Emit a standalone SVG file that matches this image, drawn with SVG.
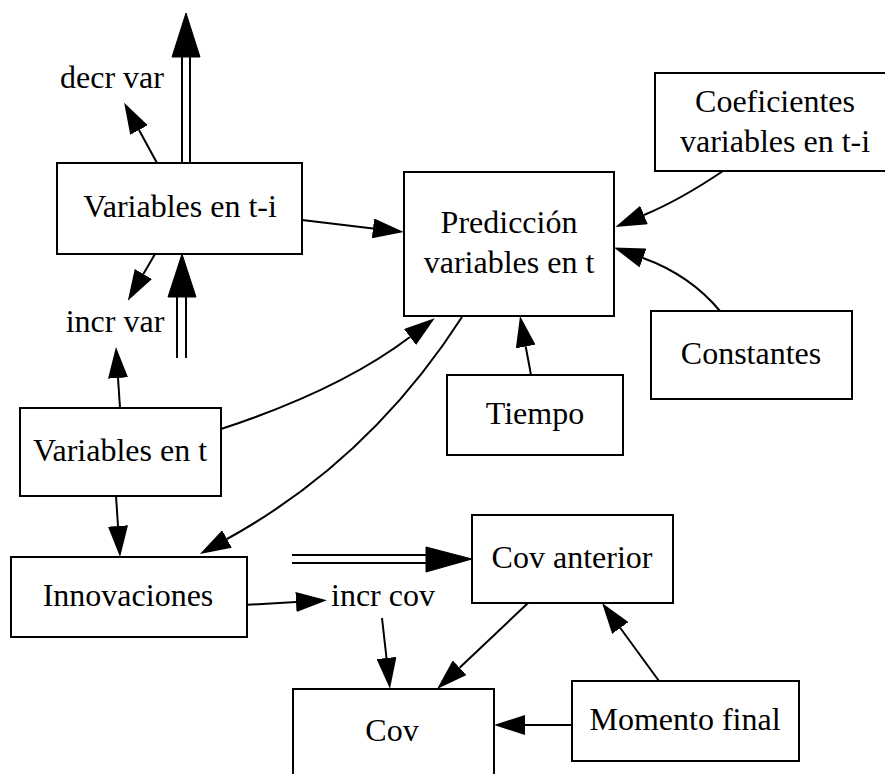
<svg xmlns="http://www.w3.org/2000/svg" width="885" height="774" viewBox="0 0 885 774">
  <style>
    .box { fill: #ffffff; stroke: #000000; stroke-width: 2; }
    .lbl { font-family: "Liberation Serif", "Times New Roman", serif; font-size: 32px; fill: #000000; text-anchor: middle; }
    .edge { fill: none; stroke: #000000; stroke-width: 2; marker-end: url(#head); }
    .rail { fill: none; stroke: #000000; stroke-width: 2; }
    .bighead { fill: #000000; stroke: #000000; stroke-width: 1; }
  </style>
  <defs>
    <marker id="head" markerUnits="userSpaceOnUse" viewBox="0 0 31 20" refX="0" refY="10" markerWidth="31" markerHeight="20" orient="auto">
      <path d="M0,0 L31,10 L0,20 Z" fill="#000000"/>
    </marker>
  </defs>

  <rect width="885" height="774" fill="#ffffff"/>

  <!-- connectors -->
  <g id="connectors">
    <path class="edge" d="M302,220 L373,228.4"/>
    <path class="edge" d="M723,171 Q680,200 644,215"/>
    <path class="edge" d="M720,311 Q690,275 643,258"/>
    <path class="edge" d="M531,375 L525.7,346.5"/>
    <path class="edge" d="M221,429 Q340,390 410,337"/>
    <path class="edge" d="M462,317 Q370,460 227,539"/>
    <path class="edge" d="M157,163 L139,130"/>
    <path class="edge" d="M155,254 L143.4,274"/>
    <path class="edge" d="M120,408 L118,378"/>
    <path class="edge" d="M116,496 L118,526"/>
    <path class="edge" d="M243,605 L296,602"/>
    <path class="edge" d="M382,618 L386.5,658"/>
    <path class="edge" d="M528,603 L459.6,667.7"/>
    <path class="edge" d="M572,725 L525,725"/>
    <path class="edge" d="M659,681 L620.3,628"/>

    <!-- flows (double rails with large heads) -->
    <g id="flow-out">
      <path class="rail" d="M182,163 V57 M190,163 V57"/>
      <path class="bighead" d="M172,57 L186,13 L200,57 Z"/>
    </g>
    <g id="flow-in">
      <path class="rail" d="M177,358 V297 M186,358 V297"/>
      <path class="bighead" d="M168,297 L182,254 L196,297 Z"/>
    </g>
    <g id="flow-cov">
      <path class="rail" d="M292,555 H426 M292,563 H426"/>
      <path class="bighead" d="M426,547 L472,559 L426,572 Z"/>
    </g>
  </g>

  <!-- nodes -->
  <g id="vars-ti">
    <rect class="box" x="57" y="163" width="245" height="91"/>
    <text class="lbl" x="180" y="217">Variables en t-i</text>
  </g>
  <g id="decr-var">
    <text class="lbl" x="112" y="88">decr var</text>
  </g>
  <g id="incr-var">
    <text class="lbl" x="115" y="332">incr var</text>
  </g>
  <g id="prediccion">
    <rect class="box" x="404" y="172" width="210" height="144"/>
    <text class="lbl" x="509" y="233">Predicción</text>
    <text class="lbl" x="509" y="273">variables en t</text>
  </g>
  <g id="coeficientes">
    <rect class="box" x="655" y="73" width="240" height="98"/>
    <text class="lbl" x="775" y="112">Coeficientes</text>
    <text class="lbl" x="775" y="152">variables en t-i</text>
  </g>
  <g id="constantes">
    <rect class="box" x="651" y="311" width="201" height="88"/>
    <text class="lbl" x="751" y="364">Constantes</text>
  </g>
  <g id="tiempo">
    <rect class="box" x="447" y="375" width="176" height="80"/>
    <text class="lbl" x="535" y="424">Tiempo</text>
  </g>
  <g id="vars-t">
    <rect class="box" x="20" y="408" width="201" height="88"/>
    <text class="lbl" x="120" y="461">Variables en t</text>
  </g>
  <g id="innovaciones">
    <rect class="box" x="11" y="557" width="236" height="80"/>
    <text class="lbl" x="128" y="606">Innovaciones</text>
  </g>
  <g id="incr-cov">
    <text class="lbl" x="383" y="606">incr cov</text>
  </g>
  <g id="cov-anterior">
    <rect class="box" x="472" y="515" width="201" height="88"/>
    <text class="lbl" x="572" y="568">Cov anterior</text>
  </g>
  <g id="cov">
    <rect class="box" x="293" y="689" width="201" height="120"/>
    <text class="lbl" x="392" y="741">Cov</text>
  </g>
  <g id="momento-final">
    <rect class="box" x="572" y="681" width="227" height="80"/>
    <text class="lbl" x="685" y="730">Momento final</text>
  </g>
</svg>
